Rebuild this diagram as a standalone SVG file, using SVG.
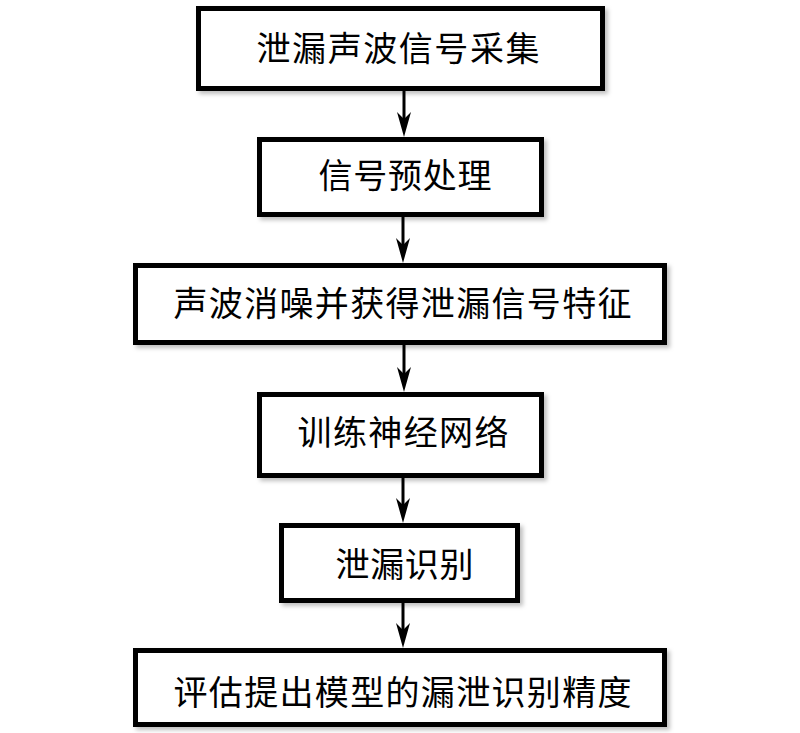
<svg xmlns="http://www.w3.org/2000/svg" xmlns:xlink="http://www.w3.org/1999/xlink" width="800" height="733" viewBox="0 0 800 733">
<style>
.box{fill:#fff;stroke:#000;stroke-width:5;filter:url(#sh)}
.lbl{font-family:"Noto Sans CJK SC","Noto Sans CJK JP",sans-serif;font-size:34px;fill:#000}
.ln{stroke:#000;stroke-width:3;fill:none}
</style>
<defs>
<filter id="sh" x="-5%" y="-10%" width="115%" height="130%">
<feDropShadow dx="3" dy="3" stdDeviation="2" flood-color="#000" flood-opacity="0.25"/>
</filter>
<path id="head" d="M0,0 L-7,-25 L0,-18 L7,-25 Z" fill="#000"/>
</defs>
<rect width="800" height="733" fill="#fff"/>
<g id="connectors">
<line class="ln" x1="404" y1="91" x2="404" y2="125"/>
<use xlink:href="#head" x="404" y="137"/>
<line class="ln" x1="403" y1="217" x2="403" y2="251"/>
<use xlink:href="#head" x="403" y="263"/>
<line class="ln" x1="404" y1="345" x2="404" y2="380"/>
<use xlink:href="#head" x="404" y="392"/>
<line class="ln" x1="403" y1="478" x2="403" y2="511"/>
<use xlink:href="#head" x="403" y="523"/>
<line class="ln" x1="403" y1="603" x2="403" y2="636"/>
<use xlink:href="#head" x="403" y="648"/>
</g>
<g id="n1">
<rect class="box" x="198.5" y="8.5" width="404" height="80"/>
<text class="lbl" x="256.5" y="61" textLength="283" lengthAdjust="spacing">泄漏声波信号采集</text>
</g>
<g id="n2">
<rect class="box" x="259.5" y="139.5" width="282" height="75"/>
<text class="lbl" x="318.5" y="188" textLength="173" lengthAdjust="spacing">信号预处理</text>
</g>
<g id="n3">
<rect class="box" x="135.5" y="265.5" width="529" height="77"/>
<text class="lbl" x="173.5" y="316" textLength="458" lengthAdjust="spacing">声波消噪并获得泄漏信号特征</text>
</g>
<g id="n4">
<rect class="box" x="259.5" y="394.5" width="282" height="81"/>
<text class="lbl" x="297.5" y="445" textLength="211" lengthAdjust="spacing">训练神经网络</text>
</g>
<g id="n5">
<rect class="box" x="281.5" y="525.5" width="236" height="75"/>
<text class="lbl" x="335.5" y="577" textLength="138" lengthAdjust="spacing">泄漏识别</text>
</g>
<g id="n6">
<rect class="box" x="135.5" y="650.5" width="529" height="74"/>
<text class="lbl" x="173.5" y="705" textLength="458" lengthAdjust="spacing">评估提出模型的漏泄识别精度</text>
</g>
</svg>
